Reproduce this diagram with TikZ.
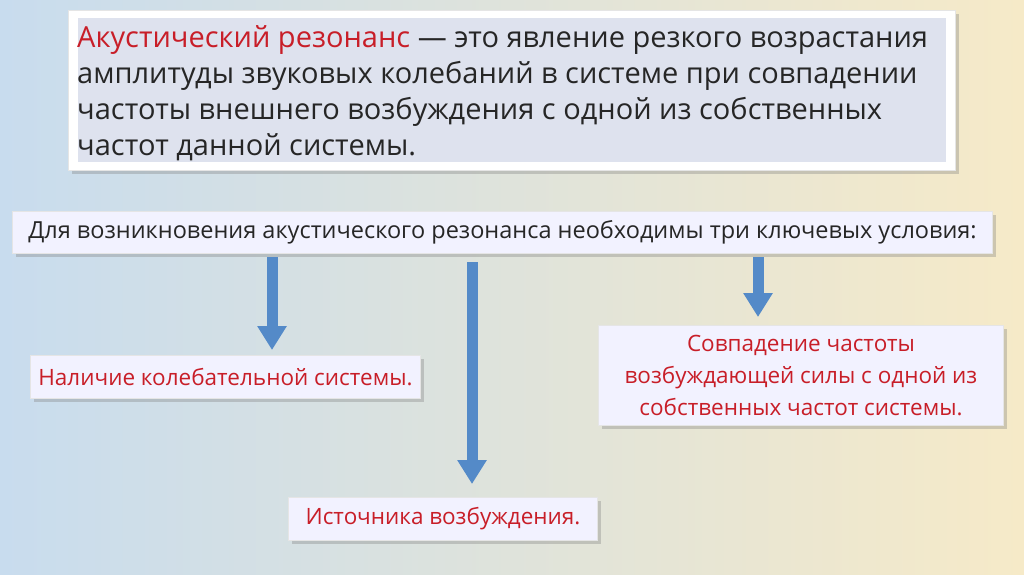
\documentclass[tikz,border=0pt]{standalone}
\usepackage{fontspec}
\setmainfont{Open Sans}
\usetikzlibrary{shadows,arrows.meta}
\definecolor{bgA}{RGB}{200,220,238}
\definecolor{bgM}{RGB}{214,226,238}
\definecolor{bgB}{RGB}{246,234,200}
\definecolor{inner}{RGB}{222,226,238}
\definecolor{txtred}{RGB}{200,30,40}
\definecolor{arr}{RGB}{84,138,200}
\tikzset{
  box/.style={draw=white!80!gray,line width=1pt,fill=white!95!blue,drop shadow={shadow xshift=3pt,shadow yshift=-3pt,opacity=0.35},inner sep=0pt},
  blk/.style={line width=11pt,draw=arr,-{Triangle[width=28pt,length=24pt]}},
}
\begin{document}
\begin{tikzpicture}[x=1pt,y=-1pt]
\useasboundingbox (0,0) rectangle (1024,574);
\shade[shading angle=155,left color=bgA,middle color=bgM,right color=bgB] (0,0) rectangle (1024,574);
% top box
\node[box,fill=white,minimum width=887pt,minimum height=160pt,anchor=north west] (top) at (68,10) {};
\fill[inner] (78,18) rectangle (946,162);
\node[anchor=north west,align=left,font=\fontsize{29}{36}\selectfont,text=black!85,inner sep=0pt] (deft) at (77,25)
 {\textcolor{txtred}{Акустический резонанс} — это явление резкого возрастания\\
 амплитуды звуковых колебаний в системе при совпадении\\
 частоты внешнего возбуждения с одной из собственных\\
 частот данной системы.};
% condition box
\node[box,minimum width=980pt,minimum height=42pt,anchor=north west] (cond) at (12,211) {};
\node[font=\fontsize{23.5}{26}\selectfont,text=black!85] (condt) at (cond.center) {Для возникновения акустического резонанса необходимы три ключевых условия:};
% result boxes
\node[box,minimum width=390pt,minimum height=43pt,anchor=north west] (b1) at (30,355) {};
\node[font=\fontsize{22.5}{26}\selectfont,text=txtred] (b1t) at (b1.center) {Наличие колебательной системы.};
\node[box,minimum width=405pt,minimum height=100pt,anchor=north west] (b3) at (598,325) {};
\node[font=\fontsize{22.5}{32}\selectfont,text=txtred,align=center] (b3t) at (b3.center) {Совпадение частоты\\возбуждающей силы с одной из\\собственных частот системы.};
\node[box,minimum width=309pt,minimum height=43pt,anchor=north west] (b2) at (288,497) {};
\node[font=\fontsize{22.5}{26}\selectfont,text=txtred] (b2t) at (b2.center) {Источника возбуждения.};
% arrows
\coordinate (s1) at (272,257);
\coordinate (s2) at (472,262);
\coordinate (s3) at (758,257);
\draw[blk] (s1) -- (272,350);
\draw[blk] (s2) -- (472,484);
\draw[blk] (s3) -- (758,317);
\end{tikzpicture}
\end{document}
